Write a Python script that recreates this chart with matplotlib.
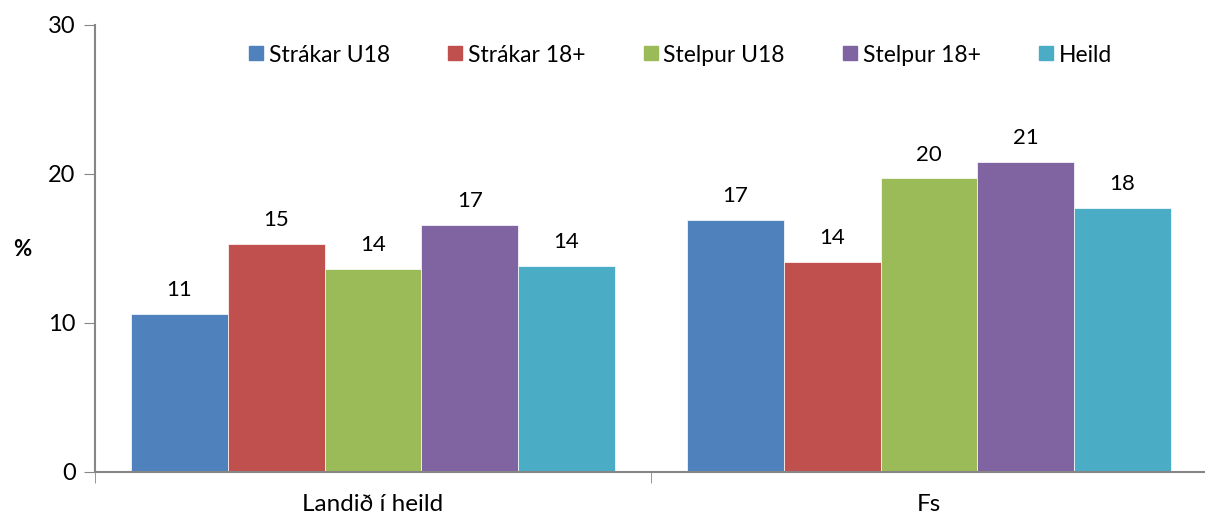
import matplotlib
matplotlib.use("Agg")
import matplotlib.pyplot as plt
from matplotlib.lines import Line2D
import numpy as np

categories = ["Landið í heild", "Fs"]
series_names = ["Strákar U18", "Strákar 18+", "Stelpur U18", "Stelpur 18+", "Heild"]
values = {
    "Strákar U18": [10.6, 16.9],
    "Strákar 18+": [15.3, 14.1],
    "Stelpur U18": [13.6, 19.7],
    "Stelpur 18+": [16.6, 20.8],
    "Heild": [13.8, 17.7],
}
colors = ["#4F81BD", "#C0504D", "#9BBB59", "#8064A2", "#4BACC6"]
yticks = [0, 10, 20, 30]

plt.rcParams['font.family'] = ['Lato', 'DejaVu Sans']
fig = plt.figure(figsize=(12.05, 5.18), dpi=100)
ax = fig.add_axes([95/1205, 1-472/518, 1-93/1205, (472-25)/518])

x = np.arange(len(categories))
w = 0.174
n = len(series_names)
handles = []
for i, name in enumerate(series_names):
    pos = x + (i - (n-1)/2) * w
    ax.bar(pos, values[name], width=w, color=colors[i], edgecolor='white', linewidth=0.5)
    for xb, v in zip(pos, values[name]):
        ax.annotate(f"{v:.0f}", (xb, v), xytext=(0, 10), textcoords='offset points',
                    ha='center', va='bottom', fontsize=16, color='black')
    handles.append(Line2D([], [], marker='s', linestyle='none', markersize=10,
                          markerfacecolor=colors[i], markeredgecolor=colors[i]))

ax.set_xlim(-0.5, 1.5)
ax.set_ylim(0, 30)
ax.set_yticks(yticks)
ax.set_yticklabels([str(t) for t in yticks], fontsize=17)
ax.set_xticks(x)
ax.set_xticklabels(categories, fontsize=17.5)
ax.set_xticks([-0.5, 0.5, 1.5], minor=True)
ax.tick_params(axis='x', which='major', length=0, pad=16)
ax.tick_params(axis='x', which='minor', length=8, color='#868686', direction='out')
ax.tick_params(axis='y', length=8, color='#868686', direction='out', pad=6)
for s in ['top', 'right']:
    ax.spines[s].set_visible(False)
for s in ['left', 'bottom']:
    ax.spines[s].set_color('#868686')
    ax.spines[s].set_linewidth(1.5)

fig.text(22/1205, 1-250/518, "%", fontsize=16, fontweight='bold', ha='center', va='center')

leg = ax.legend(handles, series_names, ncol=5, frameon=False, fontsize=16.5,
                loc='center', handletextpad=0.15, columnspacing=2.45, handlelength=0.8)
leg.set_bbox_to_anchor((((242+1117)/2)/1205, 1-55/518), transform=fig.transFigure)

fig.savefig("out.png", dpi=100)
